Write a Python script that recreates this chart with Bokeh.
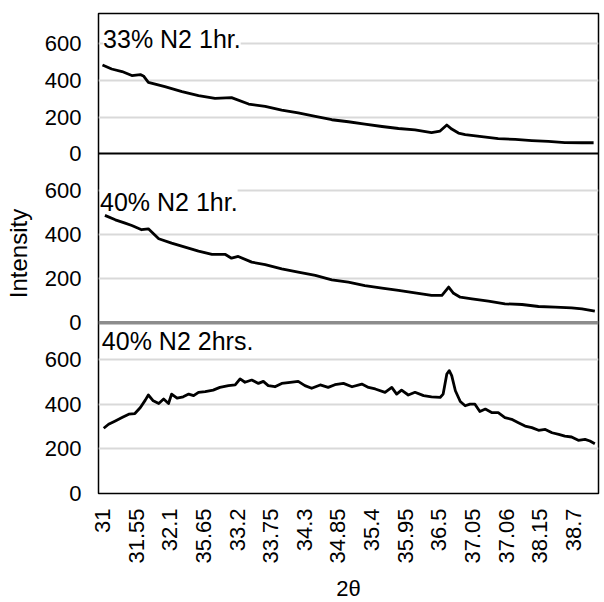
import numpy as np
from bokeh.plotting import figure
from bokeh.models import Range1d, FixedTicker, Span, Label
from bokeh.embed import file_html
from bokeh.resources import INLINE

# ---------------- data ----------------
two_theta_33_1h = [31.00, 31.15, 31.32, 31.48, 31.62, 31.67, 31.75, 32.02, 32.30, 32.57, 32.84,
                   33.11, 33.39, 33.66, 33.93, 34.20, 34.48, 34.75, 35.02, 35.29, 35.57, 35.84,
                   36.11, 36.38, 36.52, 36.63, 36.71, 36.82, 36.93, 37.20, 37.47, 37.75, 38.02,
                   38.29, 38.56, 38.84, 39.03]
intensity_33_1h = [485, 463, 449, 427, 432, 425, 390, 366, 339, 317, 302,
                   306, 271, 258, 238, 222, 203, 185, 174, 161, 148, 137,
                   130, 115, 123, 156, 134, 112, 104, 93, 82, 77, 71,
                   66, 60, 59, 59]

two_theta_40_1h = [31.04, 31.21, 31.37, 31.48, 31.64, 31.75, 31.92, 32.13, 32.35, 32.57, 32.79,
                   33.01, 33.11, 33.22, 33.44, 33.66, 33.93, 34.20, 34.48, 34.75, 35.02, 35.29,
                   35.57, 35.84, 36.11, 36.38, 36.55, 36.66, 36.74, 36.85, 37.04, 37.31, 37.58,
                   37.86, 38.13, 38.40, 38.67, 38.84, 39.05]
intensity_40_1h = [487, 467, 452, 441, 422, 426, 381, 361, 343, 325, 310,
                   310, 293, 301, 275, 264, 245, 230, 215, 195, 184, 169,
                   157, 147, 136, 124, 124, 162, 134, 116, 109, 98, 86,
                   83, 74, 71, 68, 63, 53]

two_theta_40_2h = [31.02, 31.10, 31.21, 31.32, 31.43, 31.53, 31.62, 31.70, 31.75, 31.83, 31.92,
                   32.00, 32.08, 32.13, 32.22, 32.32, 32.41, 32.49, 32.57, 32.68, 32.81, 32.92,
                   33.06, 33.17, 33.25, 33.33, 33.44, 33.55, 33.63, 33.71, 33.82, 33.93, 34.07,
                   34.20, 34.31, 34.42, 34.56, 34.69, 34.80, 34.94, 35.08, 35.24, 35.35, 35.46,
                   35.62, 35.73, 35.81, 35.89, 36.00, 36.11, 36.25, 36.38, 36.52, 36.57, 36.63,
                   36.67, 36.71, 36.77, 36.85, 36.93, 37.01, 37.09, 37.17, 37.26, 37.37, 37.47,
                   37.58, 37.69, 37.80, 37.91, 38.02, 38.13, 38.24, 38.35, 38.46, 38.56, 38.67,
                   38.78, 38.89, 38.97, 39.05]
intensity_40_2h = [292, 310, 325, 340, 355, 358, 385, 418, 441, 415, 403,
                   423, 403, 445, 427, 433, 445, 438, 453, 456, 463, 475,
                   483, 486, 513, 498, 508, 493, 502, 483, 478, 493, 498,
                   502, 483, 471, 486, 475, 487, 493, 478, 490, 475, 468,
                   453, 475, 445, 463, 441, 453, 438, 433, 430, 445, 535,
                   550, 528, 460, 412, 393, 400, 400, 367, 378, 362, 362,
                   340, 332, 317, 302, 295, 283, 287, 272, 265, 257, 253,
                   238, 242, 235, 223]

panel_titles = ["33% N2 1hr.", "40% N2 1hr.", "40% N2 2hrs."]
y_tick_values = [0, 200, 400, 600]
x_tick_values = [31.0, 31.55, 32.1, 32.65, 33.2, 33.75, 34.3, 34.85, 35.4, 35.95,
                 36.5, 37.05, 37.6, 38.15, 38.7]
x_tick_labels = ["31", "31.55", "32.1", "35.65", "33.2", "33.75", "34.3", "34.85",
                 "35.4", "35.95", "36.5", "37.05", "37.06", "38.15", "38.7"]

# ---------------- layout of the three stacked panels ----------------
# fraction of the frame height (from the bottom) where each panel's 0 and 600 sit
panel_zero_frac = [0.7083, 0.3556, 0.0]
panel_top_frac = [0.9365, 0.6313, 0.2792]
title_levels = [630, 550, 681]      # vertical place of each panel title, in panel units
title_xs = [31.01, 30.96, 30.99]

FONT = "Liberation Sans"


def panel_range(zero_f, top_f, vmax=600.0):
    span = vmax / (top_f - zero_f)
    start = -zero_f * span
    return Range1d(start, start + span)


ranges = [panel_range(z, t) for z, t in zip(panel_zero_frac, panel_top_frac)]
main = ranges[2]
range_names = ["p1", "p2", "default"]

p = figure(frame_width=500, frame_height=480, output_backend="svg", toolbar_location=None,
           x_range=Range1d(30.935, 39.11), y_range=main,
           min_border_left=98, min_border_right=4, min_border_top=13, min_border_bottom=0,
           background_fill_color="white", border_fill_color="white")
p.extra_y_ranges = {"p1": ranges[0], "p2": ranges[1]}
p.outline_line_color = "black"
p.outline_line_width = 1.5


def to_main(v, r):
    frac = (v - r.start) / (r.end - r.start)
    return round(main.start + frac * (main.end - main.start), 3)


tick_pos = []
grid_pos = []
overrides = {}
for r in ranges:
    for v in y_tick_values:
        m = to_main(v, r)
        tick_pos.append(m)
        overrides[m] = str(v)
        if v != 0:
            grid_pos.append(m)

# y axis
ya = p.yaxis[0]
ya.ticker = FixedTicker(ticks=tick_pos)
ya.major_label_overrides = overrides
ya.major_label_text_font = FONT
ya.major_label_text_font_size = "22px"
ya.major_label_text_color = "black"
ya.major_tick_line_color = None
ya.minor_tick_line_color = None
ya.major_tick_out = 0
ya.major_label_standoff = 17
ya.axis_line_color = None
ya.axis_label = "Intensity"
ya.axis_label_text_font = FONT
ya.axis_label_text_font_size = "24px"
ya.axis_label_text_font_style = "normal"
ya.axis_label_text_color = "black"
ya.axis_label_standoff = 10

# grid
p.xgrid.visible = False
p.ygrid[0].ticker = FixedTicker(ticks=grid_pos)
p.ygrid[0].grid_line_color = "#d9d9d9"
p.ygrid[0].grid_line_width = 2

# x axis
xa = p.xaxis[0]
xa.ticker = FixedTicker(ticks=x_tick_values)
xa.major_label_overrides = dict(zip(x_tick_values, x_tick_labels))
xa.major_label_orientation = np.pi / 2
xa.major_label_text_font = FONT
xa.major_label_text_font_size = "22px"
xa.major_label_text_color = "black"
xa.major_tick_line_color = None
xa.minor_tick_line_color = None
xa.major_tick_out = 0
xa.major_label_standoff = 15
xa.axis_line_color = None
xa.axis_label = "2θ"
xa.axis_label_text_font = FONT
xa.axis_label_text_font_size = "22px"
xa.axis_label_text_font_style = "normal"
xa.axis_label_text_color = "black"
xa.axis_label_standoff = 9

# zero lines of the upper two panels
p.add_layout(Span(location=0, dimension="width", y_range_name="p1",
                  line_color="black", line_width=2))
p.add_layout(Span(location=0, dimension="width", y_range_name="p2",
                  line_color="#8c8c8c", line_width=3.5))

# panel titles (drawn under the curves, over the grid)
for title, lvl, tx, rn in zip(panel_titles, title_levels, title_xs, range_names):
    p.add_layout(Label(x=tx, y=lvl, y_range_name=rn, text=title, level="underlay",
                       text_font=FONT, text_font_size="25px", text_color="black",
                       text_align="left", text_baseline="middle",
                       background_fill_color="white"))

# series
series = [(two_theta_33_1h, intensity_33_1h), (two_theta_40_1h, intensity_40_1h),
          (two_theta_40_2h, intensity_40_2h)]
for (xs, ys), rn in zip(series, range_names):
    p.line(xs, ys, y_range_name=rn, line_color="black", line_width=2.8, line_join="round")

open("out.html", "w").write(file_html(p, INLINE))
